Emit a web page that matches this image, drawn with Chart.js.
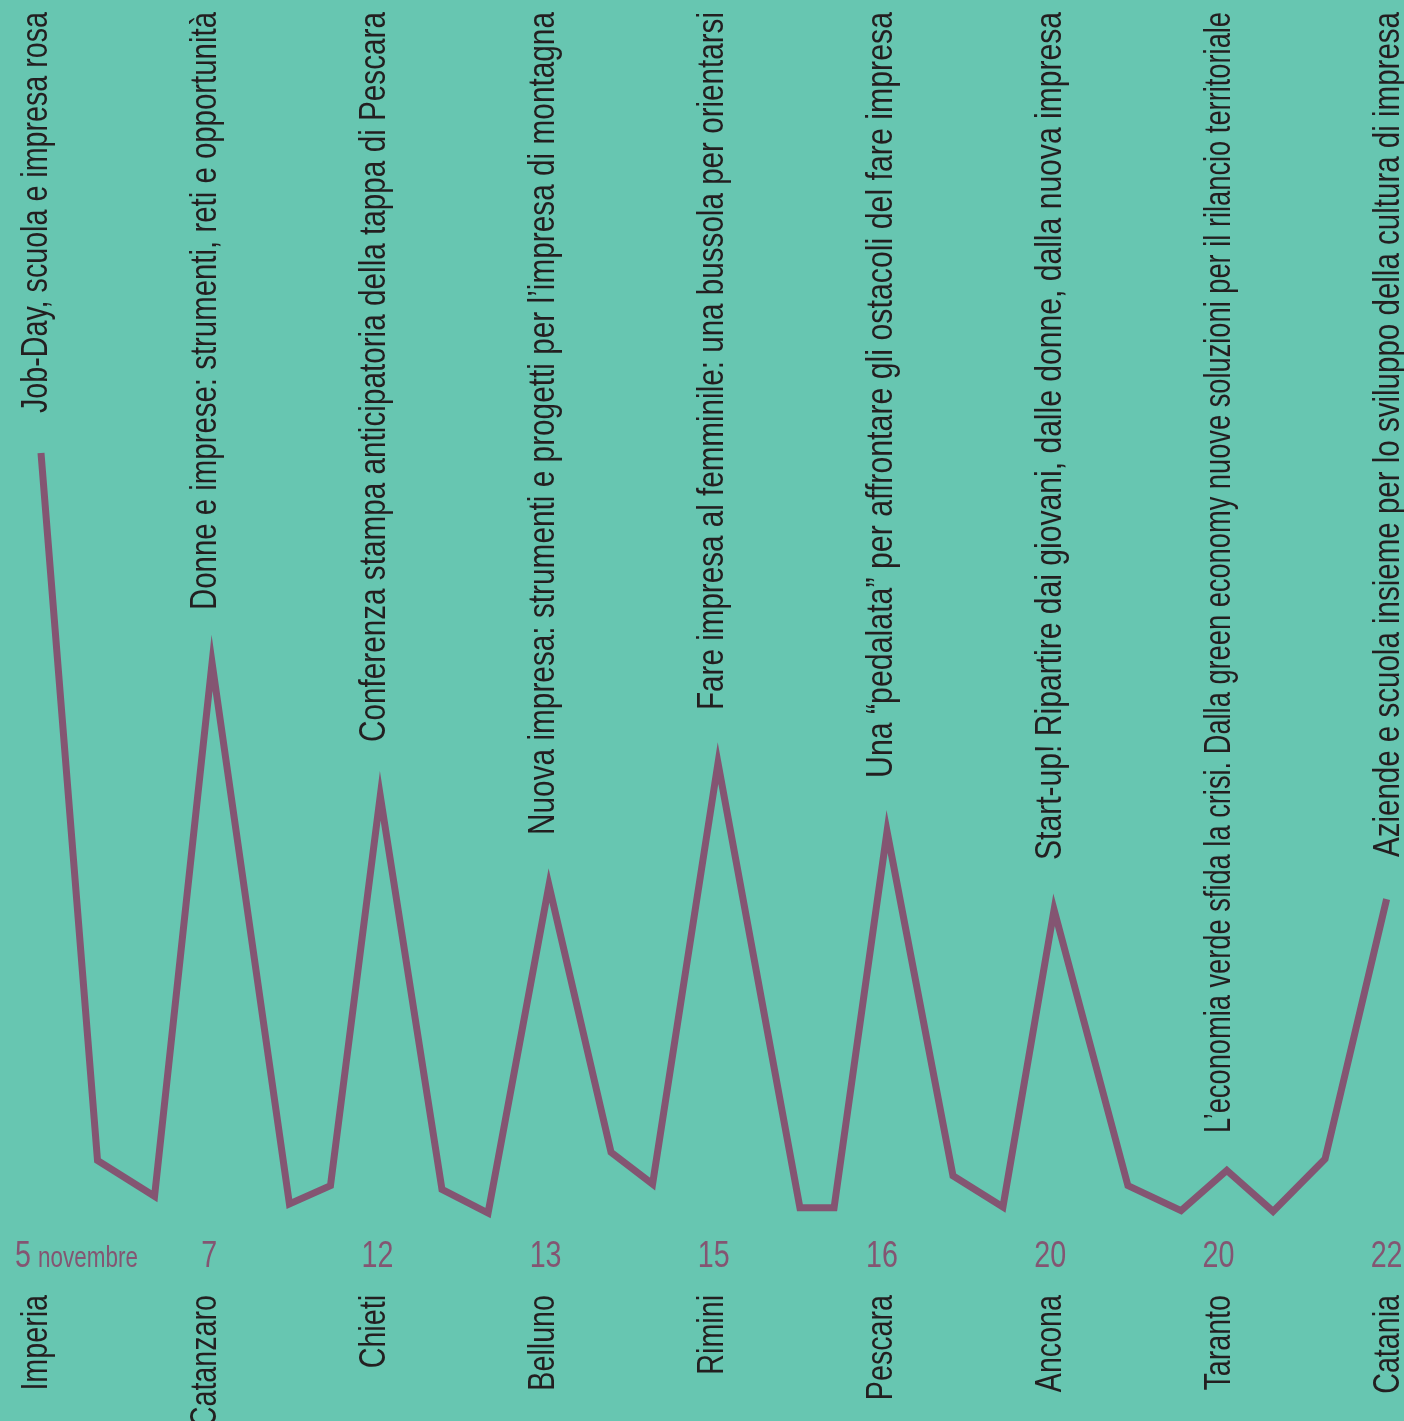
<!DOCTYPE html>
<html>
<head>
<meta charset="utf-8">
<script src="https://cdn.jsdelivr.net/npm/chart.js@4"></script>
<style>
  html, body { margin: 0; padding: 0; background: #67C6B1; }
  canvas { display: block; }
</style>
</head>
<body>
<canvas id="c" width="1404" height="1421"></canvas>
<script>
// ---- data ----
const cities = ['Imperia', 'Catanzaro', 'Chieti', 'Belluno', 'Rimini', 'Pescara', 'Ancona', 'Taranto', 'Catania'];
const dateDays = ['5', '7', '12', '13', '15', '16', '20', '20', '22'];
const monthName = 'novembre';
const eventTitles = [
  'Job-Day, scuola e impresa rosa',
  'Donne e imprese: strumenti, reti e opportunità',
  'Conferenza stampa anticipatoria della tappa di Pescara',
  'Nuova impresa: strumenti e progetti per l’impresa di montagna',
  'Fare impresa al femminile: una bussola per orientarsi',
  'Una “pedalata” per affrontare gli ostacoli del fare impresa',
  'Start-up! Ripartire dai giovani, dalle donne, dalla nuova impresa',
  'L’economia verde sfida la crisi. Dalla green economy nuove soluzioni per il rilancio territoriale',
  'Aziende e scuola insieme per lo sviluppo della cultura di impresa'
];
// line vertices: position along the tour (stage index) and level
const tourPos = [0, 0.336, 0.675, 1.017, 1.477, 1.721, 2.017, 2.384, 2.658, 3.020, 3.389, 3.636,
                 4.025, 4.512, 4.715, 5.030, 5.422, 5.719, 6.023, 6.462, 6.778, 7.050, 7.325, 7.634, 8.0];
const tourLevel = [100, 6.9, 2.2, 72.4, 1.2, 3.6, 54.9, 3.1, 0, 43.1, 8.0, 3.8,
                   59.2, 0.7, 0.7, 50.2, 4.9, 0.8, 39.9, 3.6, 0.3, 5.6, 0.2, 7.1, 41.3];

// ---- style / layout ----
const BG = '#67C6B1';
const LINE = '#845572';
const TEXT = '#231F20';
const FONT = "'Liberation Sans Narrow', 'Arial Narrow', 'Liberation Sans', sans-serif";
const FS = 37;
// set length (px) of each rotated title, as typeset in the original
const titleSpan = [401, 598, 730, 823, 698, 766, 848, 1121, 845];

const points = tourPos.map((x, i) => ({ x: x, y: tourLevel[i] }));

const textPlugin = {
  id: 'texts',
  beforeDraw(chart) {
    const ctx = chart.ctx;
    ctx.save();
    ctx.fillStyle = BG;
    ctx.fillRect(0, 0, chart.width, chart.height);
    ctx.restore();
  },
  afterDraw(chart) {
    const ctx = chart.ctx;
    const xs = chart.scales.x;
    ctx.save();
    ctx.font = FS + 'px ' + FONT;
    const sx = 401 / ctx.measureText(eventTitles[0]).width;

    function vtext(str, x, yTop, color, scaleX) {
      ctx.save();
      ctx.translate(x, yTop);
      ctx.rotate(-Math.PI / 2);
      ctx.scale(scaleX, 1);
      ctx.fillStyle = color;
      ctx.textAlign = 'right';
      ctx.textBaseline = 'alphabetic';
      ctx.fillText(str, 0, 0);
      ctx.restore();
    }
    function htext(str, x, y, color, align, size) {
      ctx.save();
      ctx.font = size + 'px ' + FONT;
      ctx.translate(x, y);
      ctx.scale(sx, 1);
      ctx.fillStyle = color;
      ctx.textAlign = align;
      ctx.textBaseline = 'alphabetic';
      ctx.fillText(str, 0, 0);
      ctx.restore();
    }

    cities.forEach((c, i) => {
      const colX = xs.getPixelForValue(i) + 6 + i * 0.8;
      const tsx = titleSpan[i] / ctx.measureText(eventTitles[i]).width;
      vtext(eventTitles[i], colX, 12, TEXT, tsx);
      vtext(c, colX, 1295, TEXT, sx);
      if (i === 0) {
        htext(dateDays[i], 15, 1267, LINE, 'left', FS);
        htext(monthName, 38, 1267, LINE, 'left', 29);
      } else {
        htext(dateDays[i], xs.getPixelForValue(i), 1267, LINE, 'center', FS);
      }
    });
    ctx.restore();
  }
};

new Chart(document.getElementById('c'), {
  type: 'line',
  data: {
    datasets: [{
      data: points,
      borderColor: LINE,
      borderWidth: 7,
      borderJoinStyle: 'miter',
      borderCapStyle: 'butt',
      pointRadius: 0,
      tension: 0,
      fill: false
    }]
  },
  options: {
    responsive: false,
    animation: false,
    devicePixelRatio: 1,
    layout: { padding: 0 },
    plugins: { legend: { display: false }, tooltip: { enabled: false } },
    scales: {
      x: { type: 'linear', display: false, min: -41 / 168.2, max: (1404 - 41) / 168.2 },
      y: { type: 'linear', display: false, min: (1213 - 1421) / 7.6, max: 1213 / 7.6 }
    }
  },
  plugins: [textPlugin]
});
</script>
</body>
</html>
